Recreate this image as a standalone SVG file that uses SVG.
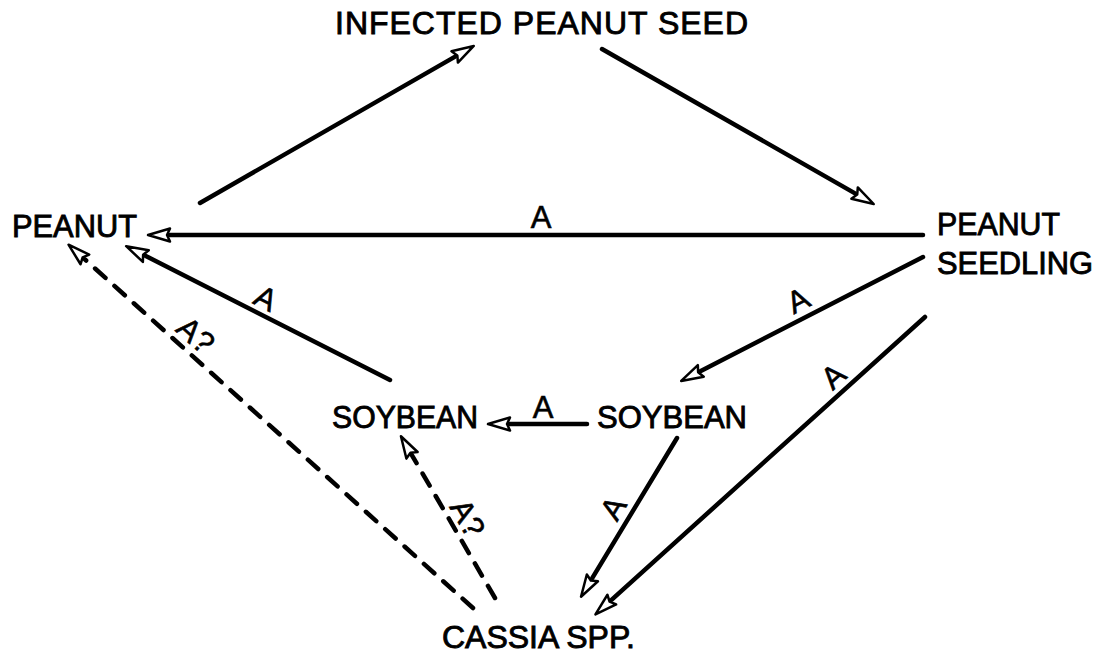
<svg xmlns="http://www.w3.org/2000/svg" width="1107" height="656" viewBox="0 0 1107 656">
<style>
  .node { font-family: "Liberation Sans", Arial, sans-serif; font-size: 32px; fill: #000; stroke: #000; stroke-width: 0.9; }
  .lbl { font-family: "Liberation Sans", Arial, sans-serif; font-size: 31px; fill: #000; stroke: #000; stroke-width: 0.6; text-anchor: middle; }
  .edge { stroke: #000; stroke-width: 4.5; fill: none; stroke-linecap: round; marker-end: url(#arrow); }
  .dash { stroke-dasharray: 14 12; }
</style>
<defs>
  <marker id="arrow" markerUnits="userSpaceOnUse" markerWidth="28" markerHeight="18" viewBox="-2 -9 28 18" refX="0" refY="0" orient="auto" overflow="visible">
    <path d="M3,0 L0,-6.5 L22,0 L0,6.5 Z" fill="#fff" stroke="#000" stroke-width="2.5" stroke-linejoin="round"/>
  </marker>
</defs>
<rect width="1107" height="656" fill="#fff"/>

<g id="connectors">
  <line class="edge" x1="200" y1="203" x2="454.7" y2="56.9"/>
  <line class="edge" x1="602" y1="49" x2="854.6" y2="193.1"/>
  <line class="edge" x1="923" y1="235" x2="170" y2="235"/>
  <line class="edge" x1="923" y1="257" x2="700.8" y2="370.9"/>
  <line class="edge" x1="925" y1="317" x2="611.8" y2="599.6"/>
  <line class="edge" x1="677" y1="438" x2="592.4" y2="577.9"/>
  <line class="edge" x1="587" y1="424" x2="510" y2="424"/>
  <line class="edge" x1="390" y1="380" x2="145.8" y2="256.1"/>
  <line class="edge dash" x1="473" y1="608" x2="84.9" y2="259.4"/>
  <line class="edge dash" x1="495" y1="598" x2="412" y2="455.3"/>

  <text class="lbl" x="541" y="228">A</text>
  <text class="lbl" x="543" y="418">A</text>
  <text class="lbl" transform="translate(798,300) rotate(-27)" x="0" y="11">A</text>
  <text class="lbl" transform="translate(833,376) rotate(-42)" x="0" y="11">A</text>
  <text class="lbl" transform="translate(613,508) rotate(-59)" x="0" y="11">A</text>
  <text class="lbl" transform="translate(266,298) rotate(27)" x="0" y="11">A</text>
  <text class="lbl" transform="translate(196,335) rotate(42)" x="0" y="11">A?</text>
  <text class="lbl" transform="translate(468,518) rotate(60)" x="0" y="11">A?</text>
</g>

<g id="infected-peanut-seed"><text class="node" x="335" y="34" textLength="413" lengthAdjust="spacing">INFECTED PEANUT SEED</text></g>
<g id="peanut"><text class="node" x="12" y="237" textLength="125" lengthAdjust="spacingAndGlyphs">PEANUT</text></g>
<g id="peanut-seedling">
  <text class="node" x="937" y="235" textLength="123" lengthAdjust="spacingAndGlyphs">PEANUT</text>
  <text class="node" x="937" y="274" textLength="156" lengthAdjust="spacingAndGlyphs">SEEDLING</text>
</g>
<g id="soybean-left"><text class="node" x="332" y="428" textLength="146" lengthAdjust="spacingAndGlyphs">SOYBEAN</text></g>
<g id="soybean-right"><text class="node" x="597" y="428" textLength="150" lengthAdjust="spacingAndGlyphs">SOYBEAN</text></g>
<g id="cassia-spp"><text class="node" x="442" y="648" textLength="193" lengthAdjust="spacing">CASSIA SPP.</text></g>
</svg>
